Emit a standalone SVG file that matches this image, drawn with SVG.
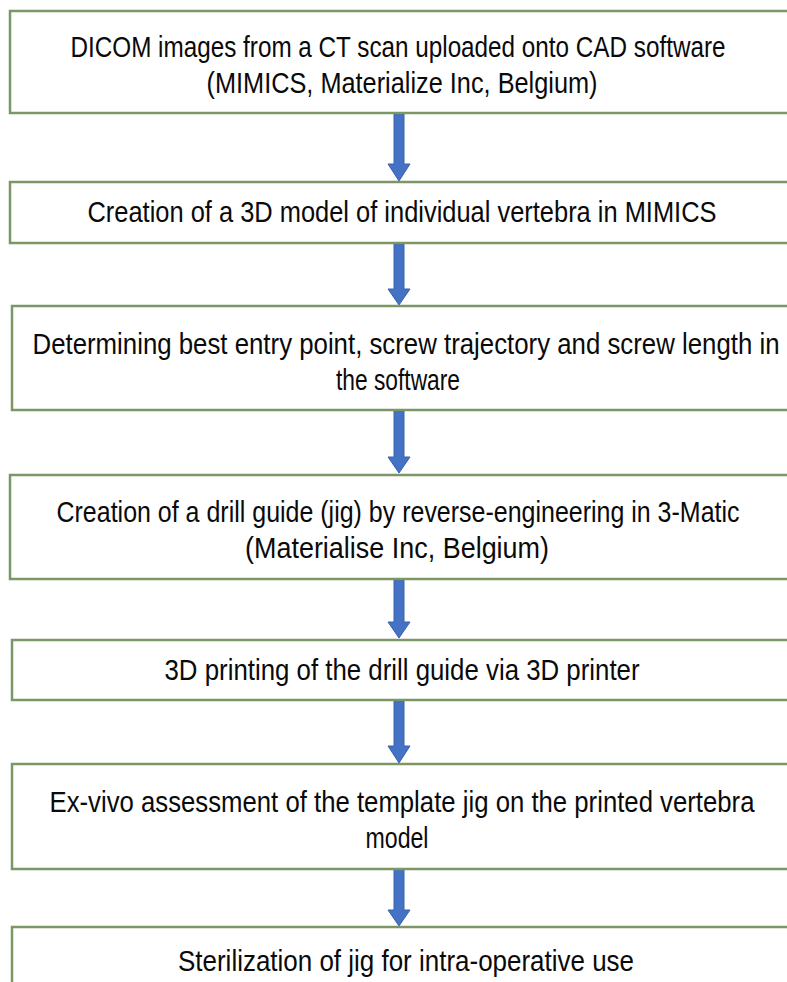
<svg xmlns="http://www.w3.org/2000/svg" width="787" height="982" viewBox="0 0 787 982">
<style>
.box{fill:#ffffff;stroke:#7b9766;stroke-width:2.5}
.t{font-family:"Liberation Sans","Arial",sans-serif;font-size:24px;fill:#0a0a0a;text-anchor:middle}
.arr{fill:#4472c4;stroke:#3a62aa;stroke-width:1}
</style>
<rect x="0" y="0" width="787" height="982" fill="#ffffff"/>
<g id="connectors">
<path class="arr" d="M394,114 H404 V164 H410 L399,181 L388,164 H394 Z"/>
<path class="arr" d="M394,244 H404 V289 H410 L399,305 L388,289 H394 Z"/>
<path class="arr" d="M394,411 H404 V457 H410 L399,473 L388,457 H394 Z"/>
<path class="arr" d="M394,580 H404 V622 H410 L399,638 L388,622 H394 Z"/>
<path class="arr" d="M394,701 H404 V746 H410 L399,763 L388,746 H394 Z"/>
<path class="arr" d="M394,869 H404 V910 H410 L399,926 L388,910 H394 Z"/>
</g>
<g id="n1">
<rect class="box" x="10" y="11" width="785" height="102"/>
<text class="t" transform="translate(398,57) scale(1,1.2)" textLength="655" lengthAdjust="spacingAndGlyphs">DICOM images from a CT scan uploaded onto CAD software</text>
<text class="t" transform="translate(402,93) scale(1,1.2)" textLength="391" lengthAdjust="spacingAndGlyphs">(MIMICS, Materialize Inc, Belgium)</text>
</g>
<g id="n2">
<rect class="box" x="10" y="182" width="785" height="61"/>
<text class="t" transform="translate(402,222) scale(1,1.2)" textLength="629" lengthAdjust="spacingAndGlyphs">Creation of a 3D model of individual vertebra in MIMICS</text>
</g>
<g id="n3">
<rect class="box" x="12" y="306" width="783" height="104"/>
<text class="t" transform="translate(406,354) scale(1,1.2)" textLength="747" lengthAdjust="spacingAndGlyphs">Determining best entry point, screw trajectory and screw length in</text>
<text class="t" transform="translate(398,390) scale(1,1.2)" textLength="124" lengthAdjust="spacingAndGlyphs">the software</text>
</g>
<g id="n4">
<rect class="box" x="10" y="475" width="785" height="104"/>
<text class="t" transform="translate(398,522) scale(1,1.2)" textLength="683" lengthAdjust="spacingAndGlyphs">Creation of a drill guide (jig) by reverse-engineering in 3-Matic</text>
<text class="t" transform="translate(397,558) scale(1,1.2)" textLength="304" lengthAdjust="spacingAndGlyphs">(Materialise Inc, Belgium)</text>
</g>
<g id="n5">
<rect class="box" x="12" y="640" width="783" height="60"/>
<text class="t" transform="translate(402,680) scale(1,1.2)" textLength="475" lengthAdjust="spacingAndGlyphs">3D printing of the drill guide via 3D printer</text>
</g>
<g id="n6">
<rect class="box" x="12" y="764" width="783" height="105"/>
<text class="t" transform="translate(402,812) scale(1,1.2)" textLength="705" lengthAdjust="spacingAndGlyphs">Ex-vivo assessment of the template jig on the printed vertebra</text>
<text class="t" transform="translate(397,848) scale(1,1.2)" textLength="63" lengthAdjust="spacingAndGlyphs">model</text>
</g>
<g id="n7">
<rect class="box" x="12" y="927" width="783" height="70"/>
<text class="t" transform="translate(406,971) scale(1,1.2)" textLength="456" lengthAdjust="spacingAndGlyphs">Sterilization of jig for intra-operative use</text>
</g>
</svg>
